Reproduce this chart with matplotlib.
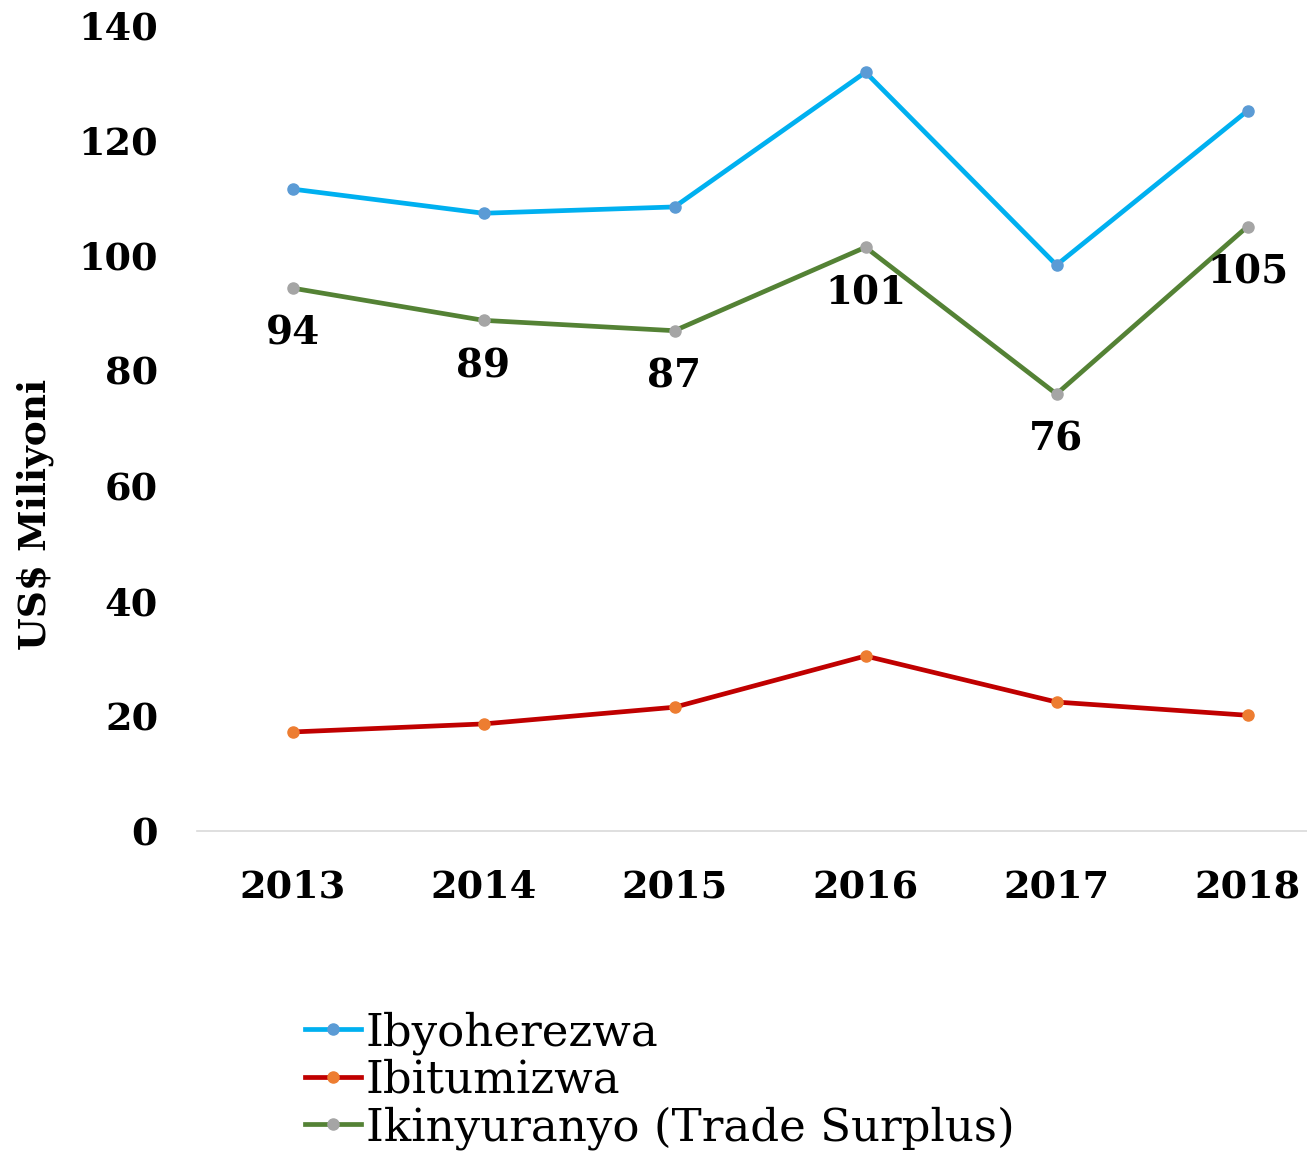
import matplotlib
matplotlib.use("Agg")
import matplotlib.pyplot as plt

years = ["2013", "2014", "2015", "2016", "2017", "2018"]
exports = [111.5, 107.3, 108.4, 131.8, 98.3, 125.1]
imports = [17.2, 18.6, 21.5, 30.4, 22.4, 20.1]
surplus = [94.3, 88.7, 86.9, 101.4, 75.9, 105.0]
surplus_labels = ["94", "89", "87", "101", "76", "105"]
series_names = ["Ibyoherezwa", "Ibitumizwa", "Ikinyuranyo (Trade Surplus)"]
yticks = [0, 20, 40, 60, 80, 100, 120, 140]

W, H = 1307, 1153
fig = plt.figure(figsize=(W / 100, H / 100), dpi=100)
ax = fig.add_axes([197 / W, 1 - 831 / H, 1146 / W, 806 / H])

x = list(range(len(years)))
lw = 3.4
ms = 8
l1, = ax.plot(x, exports, color="#00B0F0", lw=lw, marker="o", ms=ms,
              mfc="#5B9BD5", mec="#5B9BD5", label=series_names[0])
l2, = ax.plot(x, imports, color="#C00000", lw=lw, marker="o", ms=ms,
              mfc="#ED7D31", mec="#ED7D31", label=series_names[1])
l3, = ax.plot(x, surplus, color="#548235", lw=lw, marker="o", ms=ms,
              mfc="#A5A5A5", mec="#A5A5A5", label=series_names[2])

for xi, v, t in zip(x, surplus, surplus_labels):
    ax.annotate(t, (xi, v), xytext=(0, -33), textcoords="offset points",
                ha="center", va="center", fontsize=28, fontweight="bold",
                family="DejaVu Serif", color="black")

ax.set_xlim(-0.5, 5.5)
ax.set_ylim(0, 140)
ax.set_yticks(yticks)
ax.set_xticks(x)
ax.set_xticklabels(years)
for lab in ax.get_xticklabels() + ax.get_yticklabels():
    lab.set_fontsize(27.5)
    lab.set_fontweight("bold")
    lab.set_family("DejaVu Serif")
ax.tick_params(axis="both", length=0)
ax.tick_params(axis="x", pad=27)
ax.tick_params(axis="y", pad=28)
for s in ["top", "right", "left"]:
    ax.spines[s].set_visible(False)
ax.spines["bottom"].set_color("#D9D9D9")
ax.spines["bottom"].set_linewidth(1.2)

fig.text(35 / W, 1 - 514 / H, "US$ Miliyoni", rotation=90, ha="center",
         va="center", fontsize=27, fontweight="bold", family="DejaVu Serif")

fig.legend(handles=[l1, l2, l3], loc="upper left",
           bbox_to_anchor=(305 / W, 1 - 1011 / H), frameon=False,
           prop={"family": "DejaVu Serif", "size": 32.5},
           handlelength=1.25, handletextpad=0.1, labelspacing=0.09,
           borderpad=0, borderaxespad=0)

fig.savefig("out.png", dpi=100)
